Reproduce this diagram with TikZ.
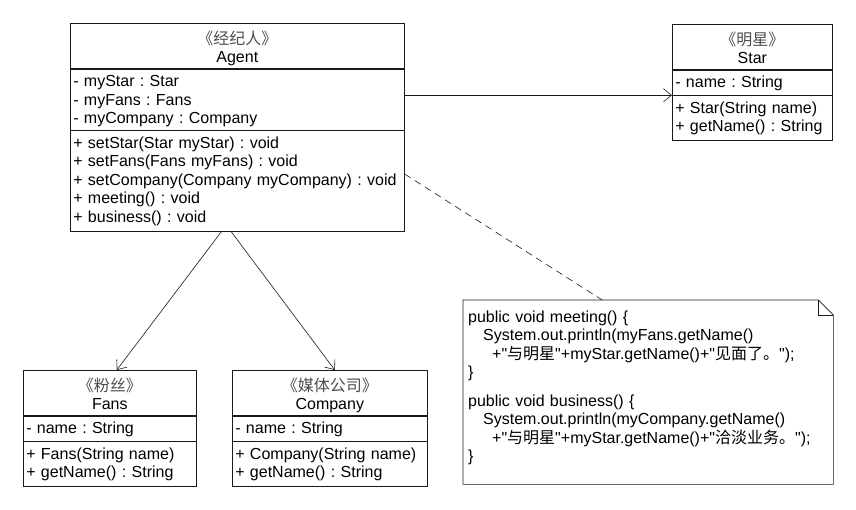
\documentclass[tikz,border=0pt]{standalone}
\usepackage{fontspec}
\setmainfont{Liberation Sans}
\newfontfamily\cjk{Noto Sans CJK SC}
\usetikzlibrary{positioning, arrows.meta}
\newcommand{\umlfont}{\fontsize{16pt}{18.4pt}\selectfont\frenchspacing}
\newcommand{\stereo}[1]{{\cjk\color{black!70}《#1》}}
\newcommand{\qt}{\textquotedbl}
\tikzstyle{classhead} = [rectangle, draw=black!90, line width=0.6pt, align=center, text height=21pt, text depth=24pt, inner xsep=3pt, inner ysep=0pt, font=\umlfont]
\tikzstyle{classpart} = [rectangle, draw=black!90, line width=0.6pt, align=left, text height=18pt, inner xsep=3pt, inner ysep=0pt, font=\umlfont]
\tikzstyle{notebox} = [rectangle, align=left, inner xsep=5pt, inner ysep=0pt, font=\umlfont]
\tikzstyle{notedraw} = [draw=black!90, line width=0.6pt]
\tikzstyle{assoc} = [draw=black!90, line width=0.6pt, -{Straight Barb[length=8pt,width=13pt]}]
\tikzstyle{anchorline} = [draw=black!90, line width=0.6pt, dash pattern=on 7pt off 5pt]

\begin{document}
\begin{tikzpicture}[x=1pt, y=1pt]
\useasboundingbox (0,0) rectangle (856,-509);

% Agent
\node (agent) [classhead, text width=328pt, anchor=north west] at (70,-23) {\stereo{经纪人}\\Agent};
\node (agentAttr) [classpart, text width=328pt, text depth=43pt, below=0pt of agent] {- myStar : Star\\- myFans : Fans\\- myCompany : Company};
\node (agentOps) [classpart, text width=328pt, text depth=83pt, below=0pt of agentAttr] {+ setStar(Star myStar) : void\\+ setFans(Fans myFans) : void\\+ setCompany(Company myCompany) : void\\+ meeting() : void\\+ business() : void};

% Star
\node (star) [classhead, text width=154pt, anchor=north west] at (672,-24) {\stereo{明星}\\Star};
\node (starAttr) [classpart, text width=154pt, text depth=7pt, below=0pt of star] {- name : String};
\node (starOps) [classpart, text width=154pt, text depth=27pt, below=0pt of starAttr] {+ Star(String name)\\+ getName() : String};

% Fans
\node (fans) [classhead, text width=167pt, anchor=north west] at (23,-370) {\stereo{粉丝}\\Fans};
\node (fansAttr) [classpart, text width=167pt, text depth=7pt, below=0pt of fans] {- name : String};
\node (fansOps) [classpart, text width=167pt, text depth=27pt, below=0pt of fansAttr] {+ Fans(String name)\\+ getName() : String};

% Company
\node (company) [classhead, text width=189pt, anchor=north west] at (232,-370) {\stereo{媒体公司}\\Company};
\node (companyAttr) [classpart, text width=189pt, text depth=7pt, below=0pt of company] {- name : String};
\node (companyOps) [classpart, text width=189pt, text depth=27pt, below=0pt of companyAttr] {+ Company(String name)\\+ getName() : String};

% note
\node (note) [notebox, text width=360pt, text height=22pt, text depth=162pt, anchor=north west] at (463,-300) {public void meeting() \{\\
\hspace*{15pt}System.out.println(myFans.getName()\\
\hspace*{24pt}+\qt{\cjk 与明星}\qt+myStar.getName()+\qt{\cjk 见面了。}\qt);\\
\}\\[10.6pt]
public void business() \{\\
\hspace*{15pt}System.out.println(myCompany.getName()\\
\hspace*{24pt}+\qt{\cjk 与明星}\qt+myStar.getName()+\qt{\cjk 洽淡业务。}\qt);\\
\}};
\draw [notedraw] (note.north west) -- ([xshift=-15pt]note.north east) -- ([yshift=-15pt]note.north east) -- (note.south east) -- (note.south west) -- cycle;
\draw [notedraw] ([xshift=-15pt]note.north east) |- ([yshift=-15pt]note.north east);

\draw [assoc] (agentAttr.east |- starOps.north) -- (starOps.north west);
\draw [assoc] ([xshift=-16pt]agentOps.south) -- ([xshift=7pt]fans.north);
\draw [assoc] ([xshift=-6pt]agentOps.south) -- ([xshift=5pt]company.north);
\draw [anchorline] ([yshift=7pt]agentOps.east) -- ([xshift=-46pt]note.north);
\end{tikzpicture}
\end{document}
